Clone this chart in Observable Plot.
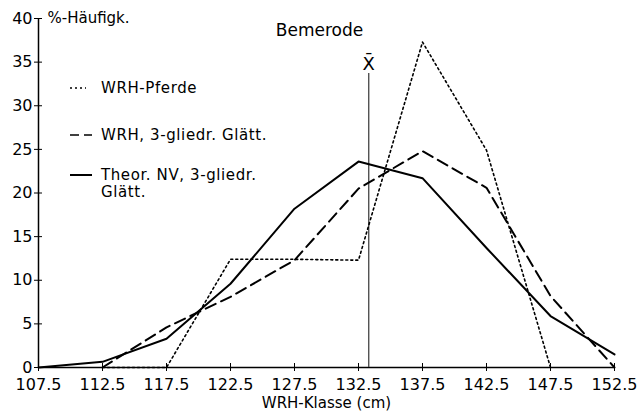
<!DOCTYPE html>
<html>
<head>
<meta charset="utf-8">
<script src="https://cdn.jsdelivr.net/npm/d3@7"></script>
<script src="https://cdn.jsdelivr.net/npm/@observablehq/plot@0.6"></script>
<style>
  html, body { margin: 0; padding: 0; background: #fff; }
  svg { display: block; }
</style>
</head>
<body>
<div id="chart"></div>
<script>
// Data
const classes = [107.5, 112.5, 117.5, 122.5, 127.5, 132.5, 137.5, 142.5, 147.5, 152.5];
const pferde = [null, 0, 0, 12.4, 12.4, 12.3, 37.3, 24.9, 0, null];       // WRH-Pferde (dotted)
const geglaettet = [null, 0, 4.6, 8.1, 12.3, 20.5, 24.8, 20.6, 8.2, 0];   // WRH, 3-gliedr. Glätt. (dashed)
const theorNV = [0, 0.65, 3.3, 9.6, 18.2, 23.6, 21.7, 13.7, 5.9, 1.5];    // Theor. NV (solid)
const meanX = 133.3;
const meanTop = 33.7;
const yTicks = [0, 5, 10, 15, 20, 25, 30, 35, 40];
const titleText = "Bemerode";
const yLabel = "%-Häufigk.";
const xLabel = "WRH-Klasse (cm)";
const meanLabel = "X\u0304";
const legendLabels = ["WRH-Pferde", "WRH, 3-gliedr. Glätt.", "Theor. NV, 3-gliedr.", "Glätt."];

const font = "DejaVu Sans, sans-serif";

const rows = (vals) => classes.map((c, i) => ({x: c, y: vals[i]})).filter(d => d.y != null);

const lineStyles = [
  {dash: "2,3", width: 1.6},
  {dash: "11,6", width: 2},
  {dash: null, width: 2}
];

// Legend: sample strokes drawn at fixed positions in the frame
function legendMark(index, scales, values, dims) {
  const g = d3.create("svg:g");
  const items = [
    {y: 88, style: lineStyles[0], x1: 70, x2: 86},
    {y: 135, style: {dash: "9,5", width: 1.6}, x1: 70, x2: 92},
    {y: 175, style: lineStyles[2], x1: 70, x2: 92}
  ];
  for (const it of items) {
    const p = g.append("line")
      .attr("x1", it.x1).attr("x2", it.x2)
      .attr("y1", it.y).attr("y2", it.y)
      .attr("stroke", "#000")
      .attr("stroke-width", it.style.width);
    if (it.style.dash) p.attr("stroke-dasharray", it.style.dash);
  }
  const ty = [88, 135, 175, 192];
  legendLabels.forEach((t, i) => {
    g.append("text")
      .attr("x", 101).attr("y", ty[i])
      .attr("dy", "0.35em")
      .attr("text-anchor", "start")
      .attr("font-family", font)
      .attr("font-size", 15)
      .attr("letter-spacing", 0.6)
      .attr("fill", "#000")
      .text(t);
  });
  return g.node();
}

const frameW = 638 - 38 - 24;
const frameH = 412 - 18 - 45;

const chart = Plot.plot({
  width: 638,
  height: 412,
  marginLeft: 38,
  marginRight: 24,
  marginTop: 18,
  marginBottom: 45,
  style: {fontFamily: font, fontSize: "16px", background: "#fff", color: "#000"},
  x: {domain: [107.5, 152.5], ticks: classes, tickFormat: d => d.toFixed(1)},
  y: {domain: [0, 40], ticks: yTicks},
  marks: [
    Plot.axisX({ticks: classes, tickFormat: d => d.toFixed(1), tickSize: 4, tickPadding: 7, label: null, fontSize: 16}),
    Plot.axisY({ticks: yTicks, tickSize: 4, tickPadding: 2, label: null, fontSize: 16}),
    // inward halves of the crossing ticks
    Plot.tickX(classes, {x: d => d, insetTop: frameH - 4, stroke: "#000"}),
    Plot.tickY(yTicks, {y: d => d, insetRight: frameW - 4, stroke: "#000"}),
    Plot.ruleY([0], {stroke: "#000", strokeWidth: 1.5}),
    Plot.ruleX([107.5], {y1: 0, y2: 40, stroke: "#000", strokeWidth: 1.5}),
    Plot.ruleX([meanX], {y1: 0, y2: meanTop, stroke: "#444", strokeWidth: 1.3}),
    Plot.text([meanLabel], {x: meanX, y: 34.8, text: d => d, fontSize: 18, fill: "#000"}),
    Plot.line(rows(pferde), {x: "x", y: "y", stroke: "#000", strokeWidth: lineStyles[0].width, strokeDasharray: lineStyles[0].dash}),
    Plot.line(rows(geglaettet), {x: "x", y: "y", stroke: "#000", strokeWidth: lineStyles[1].width, strokeDasharray: lineStyles[1].dash}),
    Plot.line(rows(theorNV), {x: "x", y: "y", stroke: "#000", strokeWidth: lineStyles[2].width}),
    Plot.text([titleText], {frameAnchor: "top-left", text: d => d, dx: 281, dy: 12, fontSize: 17, lineAnchor: "middle", textAnchor: "middle", fill: "#000"}),
    Plot.text([yLabel], {frameAnchor: "top-left", text: d => d, dx: 9, dy: 0, fontSize: 15, lineAnchor: "middle", textAnchor: "start", fill: "#000"}),
    Plot.text([xLabel], {frameAnchor: "bottom", text: d => d, dy: 36, fontSize: 15, lineAnchor: "middle", fill: "#000"}),
    legendMark
  ]
});
document.getElementById("chart").appendChild(chart);
</script>
</body>
</html>
